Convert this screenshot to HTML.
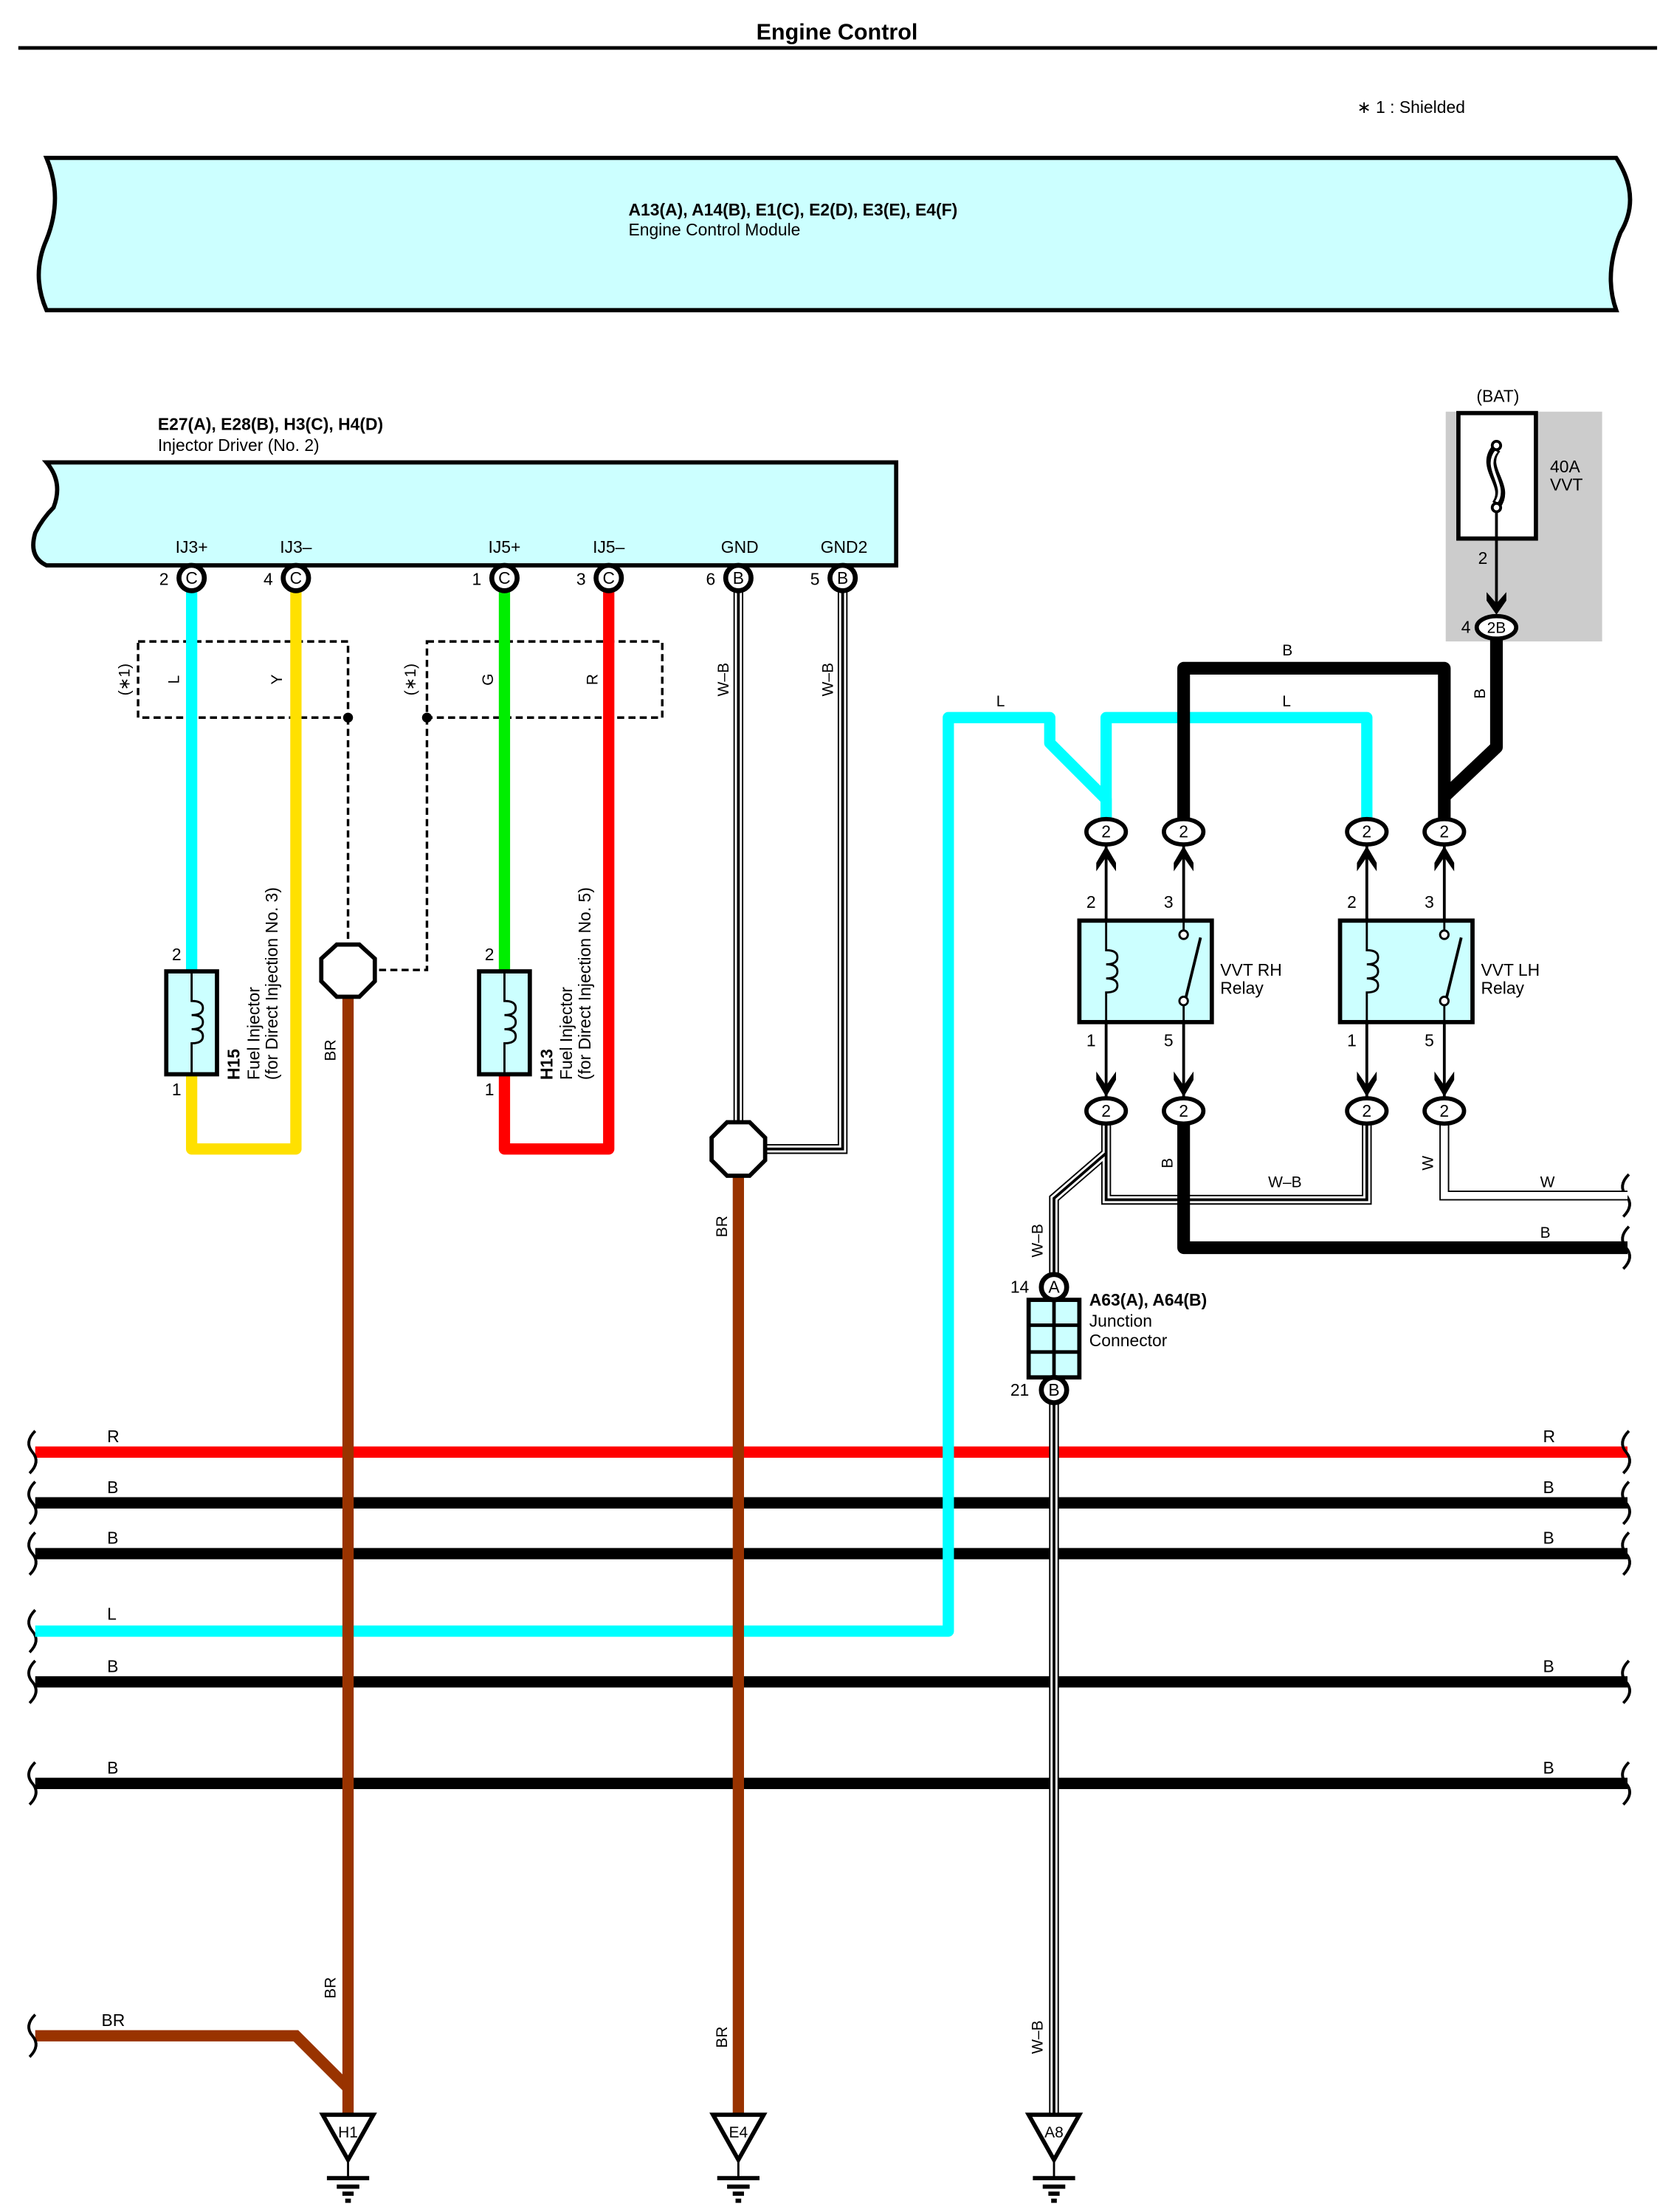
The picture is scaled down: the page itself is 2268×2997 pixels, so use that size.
<!DOCTYPE html>
<html><head><meta charset="utf-8"><style>
html,body{margin:0;padding:0;background:#fff}
svg{display:block}
text{font-family:"Liberation Sans",sans-serif;fill:#000}
</style></head><body>
<svg width="2268" height="2997" viewBox="0 0 1188 1569" preserveAspectRatio="none" xmlns="http://www.w3.org/2000/svg">
<rect width="1188" height="1569" fill="#fff"/>
<text x="594" y="28" font-size="16" font-weight="bold" text-anchor="middle">Engine Control</text>
<line x1="13" y1="34" x2="1176" y2="34" stroke="#000" stroke-width="2.5"/>
<text x="963" y="80" font-size="12">∗ 1 : Shielded</text>

<path d="M33,112 L1147,112 Q1165,140 1150,165 Q1138,195 1147,220 L33,220 Q22,195 33,170 Q45,140 33,112 Z" fill="#ccffff" stroke="#000" stroke-width="3"/>
<text x="446" y="153" font-size="12" font-weight="bold">A13(A), A14(B), E1(C), E2(D), E3(E), E4(F)</text>
<text x="446" y="167" font-size="12">Engine Control Module</text>

<text x="112" y="305" font-size="12" font-weight="bold">E27(A), E28(B), H3(C), H4(D)</text>
<text x="112" y="320" font-size="12">Injector Driver (No. 2)</text>
<path d="M33,328 L636,328 L636,401 L33,401 Q20,395 25,378 Q30,368 38,360 Q45,342 33,328 Z" fill="#ccffff" stroke="#000" stroke-width="3"/>
<g font-size="12" text-anchor="middle">
<text x="136" y="392">IJ3+</text><text x="210" y="392">IJ3–</text>
<text x="358" y="392">IJ5+</text><text x="432" y="392">IJ5–</text>
<text x="525" y="392">GND</text><text x="599" y="392">GND2</text>
</g>

<g fill="none" stroke="#000" stroke-width="1.8" stroke-dasharray="5,3">
<rect x="98" y="455" width="149" height="54"/>
<rect x="303" y="455" width="167" height="54"/>
<path d="M247,509 L247,672"/>
<path d="M303,509 L303,688 L267,688"/>
</g>
<circle cx="247" cy="509" r="3.5"/><circle cx="303" cy="509" r="3.5"/>
<g font-size="11">
<text transform="translate(92,482) rotate(-90)" text-anchor="middle">(∗1)</text>
<text transform="translate(295,482) rotate(-90)" text-anchor="middle">(∗1)</text>
<text transform="translate(127,482) rotate(-90)" text-anchor="middle">L</text>
<text transform="translate(200,482) rotate(-90)" text-anchor="middle">Y</text>
<text transform="translate(350,482) rotate(-90)" text-anchor="middle">G</text>
<text transform="translate(424,482) rotate(-90)" text-anchor="middle">R</text>
<text transform="translate(517,482) rotate(-90)" text-anchor="middle">W–B</text>
<text transform="translate(591,482) rotate(-90)" text-anchor="middle">W–B</text>
</g>

<g stroke-width="8" fill="none">
<line x1="25" y1="1030" x2="1155" y2="1030" stroke="#ff0000"/>
<line x1="25" y1="1066" x2="1155" y2="1066" stroke="#000"/>
<line x1="25" y1="1102" x2="1155" y2="1102" stroke="#000"/>
<line x1="25" y1="1193" x2="1155" y2="1193" stroke="#000"/>
<line x1="25" y1="1265" x2="1155" y2="1265" stroke="#000"/>
<path d="M25,1444 L210,1444 L247,1481" stroke="#993300"/>
</g>
<g fill="none" stroke="#000" stroke-width="2">
<path d="M25,1015 q-8,8 -2,15 q6,7 -2,15"/><path d="M25,1051 q-8,8 -2,15 q6,7 -2,15"/>
<path d="M25,1087 q-8,8 -2,15 q6,7 -2,15"/><path d="M25,1142 q-8,8 -2,15 q6,7 -2,15"/>
<path d="M25,1178 q-8,8 -2,15 q6,7 -2,15"/><path d="M25,1250 q-8,8 -2,15 q6,7 -2,15"/>
<path d="M25,1429 q-8,8 -2,15 q6,7 -2,15"/>
<path d="M1156,1015 q-8,8 -2,15 q6,7 -2,15"/><path d="M1156,1051 q-8,8 -2,15 q6,7 -2,15"/>
<path d="M1156,1087 q-8,8 -2,15 q6,7 -2,15"/><path d="M1156,1178 q-8,8 -2,15 q6,7 -2,15"/>
<path d="M1156,1250 q-8,8 -2,15 q6,7 -2,15"/>
<path d="M1156,833 q-8,8 -2,15 q6,7 -2,15"/><path d="M1156,870 q-8,8 -2,15 q6,7 -2,15"/>
</g>
<g font-size="12">
<text x="76" y="1023">R</text><text x="1095" y="1023">R</text>
<text x="76" y="1059">B</text><text x="1095" y="1059">B</text>
<text x="76" y="1095">B</text><text x="1095" y="1095">B</text>
<text x="76" y="1149">L</text>
<text x="76" y="1186">B</text><text x="1095" y="1186">B</text>
<text x="76" y="1258">B</text><text x="1095" y="1258">B</text>
<text x="72" y="1437">BR</text>
</g>

<g fill="none" stroke="#00ffff" stroke-width="8" stroke-linejoin="round">
<path d="M25,1157 L673,1157 L673,509 L745,509 L745,527 L785,567 L785,582"/>
<path d="M785,582 L785,509 L970,509 L970,582"/>
</g>
<g fill="none" stroke-width="8" stroke-linejoin="round">
<line x1="136" y1="418" x2="136" y2="688" stroke="#00ffff"/>
<path d="M136,762 L136,815 L210,815 L210,418" stroke="#ffe000"/>
<line x1="358" y1="418" x2="358" y2="688" stroke="#00ee00"/>
<path d="M358,762 L358,815 L432,815 L432,418" stroke="#ff0000"/>
<line x1="247" y1="700" x2="247" y2="1500" stroke="#993300"/>
<line x1="524" y1="830" x2="524" y2="1500" stroke="#993300"/>
</g>
<g font-size="11">
<text transform="translate(238,745) rotate(-90)" text-anchor="middle">BR</text>
<text transform="translate(238,1410) rotate(-90)" text-anchor="middle">BR</text>
<text transform="translate(516,870) rotate(-90)" text-anchor="middle">BR</text>
<text transform="translate(516,1445) rotate(-90)" text-anchor="middle">BR</text>
</g>
<g fill="none" stroke-linejoin="miter">
<path d="M524,418 L524,815 M598,418 L598,815 L524,815" stroke="#000" stroke-width="7"/>
<path d="M524,418 L524,815 M598,418 L598,815 L524,815" stroke="#fff" stroke-width="5"/>
<path d="M524,418 L524,815 M598,418 L598,815 L524,815" stroke="#000" stroke-width="2"/>
<path d="M785,796 L785,851 L970,851 L970,796 M785,818 L748,850 L748,1500 M1025,796 L1025,848 L1155,848" stroke="#000" stroke-width="7"/>
<path d="M785,796 L785,851 L970,851 L970,796 M785,818 L748,850 L748,1500 M1025,796 L1025,848 L1155,848" stroke="#fff" stroke-width="5"/>
<path d="M785,796 L785,851 L970,851 L970,796 M785,818 L748,850 L748,1500" stroke="#000" stroke-width="2"/>
</g>
<polygon points="239,670 255,670 266,680 266,696 255,707 239,707 228,696 228,680" fill="#fff" stroke="#000" stroke-width="3"/>
<polygon points="516,796 532,796 543,807 543,823 532,834 516,834 505,823 505,807" fill="#fff" stroke="#000" stroke-width="3"/>

<g stroke="#000" stroke-width="3" fill="#ccffff">
<rect x="118" y="689" width="36" height="73"/><rect x="340" y="689" width="36" height="73"/>
</g>
<g fill="none" stroke="#000" stroke-width="1.5">
<path d="M136,689 L136,710 q8,0 8,5 q0,5 -8,5 q8,0 8,5 q0,5 -8,5 q8,0 8,5 q0,5 -8,5 L136,762"/>
<path d="M358,689 L358,710 q8,0 8,5 q0,5 -8,5 q8,0 8,5 q0,5 -8,5 q8,0 8,5 q0,5 -8,5 L358,762"/>
</g>
<g font-size="12"><text x="122" y="681">2</text><text x="122" y="777">1</text><text x="344" y="681">2</text><text x="344" y="777">1</text></g>
<g font-size="12">
<text transform="translate(170,766) rotate(-90)" font-weight="bold">H15</text>
<text transform="translate(184,766) rotate(-90)">Fuel Injector</text>
<text transform="translate(197,766) rotate(-90)">(for Direct Injection No. 3)</text>
<text transform="translate(392,766) rotate(-90)" font-weight="bold">H13</text>
<text transform="translate(406,766) rotate(-90)">Fuel Injector</text>
<text transform="translate(419,766) rotate(-90)">(for Direct Injection No. 5)</text>
</g>

<g font-size="12">
<g stroke="#000" stroke-width="3.5" fill="#fff">
<circle cx="136" cy="410" r="9"/><circle cx="210" cy="410" r="9"/><circle cx="358" cy="410" r="9"/>
<circle cx="432" cy="410" r="9"/><circle cx="524" cy="410" r="9"/><circle cx="598" cy="410" r="9"/>
</g>
<g text-anchor="middle" font-size="12">
<text x="136" y="414">C</text><text x="210" y="414">C</text><text x="358" y="414">C</text>
<text x="432" y="414">C</text><text x="524" y="414">B</text><text x="598" y="414">B</text>
</g>
<text x="113" y="415">2</text><text x="187" y="415">4</text><text x="335" y="415">1</text>
<text x="409" y="415">3</text><text x="501" y="415">6</text><text x="575" y="415">5</text>
</g>

<rect x="1026" y="292" width="111" height="163" fill="#cccccc"/>
<text x="1063" y="285" font-size="12" text-anchor="middle">(BAT)</text>
<rect x="1035" y="293" width="55" height="89" fill="#fff" stroke="#000" stroke-width="3"/>
<path d="M1062,318 C1050,332 1072,344 1062,358" fill="none" stroke="#000" stroke-width="7"/>
<path d="M1062,320 C1052,332 1070,344 1062,356" fill="none" stroke="#fff" stroke-width="2"/>
<circle cx="1062" cy="316" r="3" fill="#fff" stroke="#000" stroke-width="2"/>
<circle cx="1062" cy="360" r="3" fill="#fff" stroke="#000" stroke-width="2"/>
<line x1="1062" y1="363" x2="1062" y2="432" stroke="#000" stroke-width="2"/>
<path d="M1055,426 L1062,436 L1069,426 L1069,420 L1062,428 L1055,420 Z"/>
<text x="1100" y="335" font-size="12">40A</text><text x="1100" y="348" font-size="12">VVT</text>
<text x="1049" y="400" font-size="12">2</text>
<text x="1037" y="449" font-size="12">4</text>

<g fill="none" stroke="#000" stroke-width="9" stroke-linejoin="round">
<path d="M840,582 L840,474 L1025,474 L1025,582"/>
<path d="M1062,452 L1062,530 L1025,565"/>
<path d="M840,796 L840,885 L1155,885"/>
</g>
<ellipse cx="1062" cy="445" rx="14" ry="8" fill="#fff" stroke="#000" stroke-width="3"/>
<text x="1062" y="449" font-size="11" text-anchor="middle">2B</text>
<g font-size="11">
<text x="910" y="465">B</text><text x="707" y="501">L</text><text x="910" y="501">L</text>
<text transform="translate(1054,492) rotate(-90)" text-anchor="middle">B</text>
<text transform="translate(832,825) rotate(-90)" text-anchor="middle">B</text>
<text transform="translate(1017,825) rotate(-90)" text-anchor="middle">W</text>
<text transform="translate(740,880) rotate(-90)" text-anchor="middle">W–B</text>
<text transform="translate(740,1445) rotate(-90)" text-anchor="middle">W–B</text>
<text x="900" y="842">W–B</text><text x="1093" y="842">W</text><text x="1093" y="878">B</text>
</g>

<g>
<g stroke="#000" stroke-width="2">
<line x1="785" y1="598" x2="785" y2="780"/><line x1="840" y1="598" x2="840" y2="660"/><line x1="840" y1="712" x2="840" y2="780"/>
<line x1="970" y1="598" x2="970" y2="780"/><line x1="1025" y1="598" x2="1025" y2="660"/><line x1="1025" y1="712" x2="1025" y2="780"/>
</g>
<g fill="#000">
<path d="M778,612 L785,600 L792,612 L792,618 L785,608 L778,618Z"/><path d="M833,612 L840,600 L847,612 L847,618 L840,608 L833,618Z"/>
<path d="M963,612 L970,600 L977,612 L977,618 L970,608 L963,618Z"/><path d="M1018,612 L1025,600 L1032,612 L1032,618 L1025,608 L1018,618Z"/>
<path d="M778,766 L785,778 L792,766 L792,760 L785,770 L778,760Z"/><path d="M833,766 L840,778 L847,766 L847,760 L840,770 L833,760Z"/>
<path d="M963,766 L970,778 L977,766 L977,760 L970,770 L963,760Z"/><path d="M1018,766 L1025,778 L1032,766 L1032,760 L1025,770 L1018,760Z"/>
</g>
<g stroke="#000" stroke-width="3" fill="#fff">
<ellipse cx="785" cy="590" rx="14" ry="9"/><ellipse cx="840" cy="590" rx="14" ry="9"/><ellipse cx="970" cy="590" rx="14" ry="9"/><ellipse cx="1025" cy="590" rx="14" ry="9"/>
<ellipse cx="785" cy="788" rx="14" ry="9"/><ellipse cx="840" cy="788" rx="14" ry="9"/><ellipse cx="970" cy="788" rx="14" ry="9"/><ellipse cx="1025" cy="788" rx="14" ry="9"/>
</g>
<g font-size="12" text-anchor="middle">
<text x="785" y="594">2</text><text x="840" y="594">2</text><text x="970" y="594">2</text><text x="1025" y="594">2</text>
<text x="785" y="792">2</text><text x="840" y="792">2</text><text x="970" y="792">2</text><text x="1025" y="792">2</text>
</g>
</g>
<g stroke="#000" stroke-width="3" fill="#ccffff">
<rect x="766" y="653" width="94" height="72"/><rect x="951" y="653" width="94" height="72"/>
</g>
<g fill="none" stroke="#000" stroke-width="1.5">
<path d="M785,653 L785,674 q8,0 8,5 q0,5 -8,5 q8,0 8,5 q0,5 -8,5 q8,0 8,5 q0,5 -8,5 L785,725"/>
<path d="M970,653 L970,674 q8,0 8,5 q0,5 -8,5 q8,0 8,5 q0,5 -8,5 q8,0 8,5 q0,5 -8,5 L970,725"/>
<path d="M840,653 L840,660 M840,712 L840,725 M1025,653 L1025,660 M1025,712 L1025,725"/>
<path d="M841,710 L852,665 M1026,710 L1037,665" stroke-width="2"/>
</g>
<g fill="#fff" stroke="#000" stroke-width="1.5">
<circle cx="840" cy="663" r="3"/><circle cx="840" cy="710" r="3"/><circle cx="1025" cy="663" r="3"/><circle cx="1025" cy="710" r="3"/>
</g>
<g font-size="12">
<text x="771" y="644">2</text><text x="826" y="644">3</text><text x="956" y="644">2</text><text x="1011" y="644">3</text>
<text x="771" y="742">1</text><text x="826" y="742">5</text><text x="956" y="742">1</text><text x="1011" y="742">5</text>
<text x="866" y="692">VVT RH</text><text x="866" y="705">Relay</text>
<text x="1051" y="692">VVT LH</text><text x="1051" y="705">Relay</text>
</g>

<rect x="730" y="922" width="36" height="55" fill="#ccffff" stroke="#000" stroke-width="3"/>
<g stroke="#000" stroke-width="2.5"><line x1="748" y1="922" x2="748" y2="977"/><line x1="730" y1="940" x2="766" y2="940"/><line x1="730" y1="959" x2="766" y2="959"/></g>
<g stroke="#000" stroke-width="3.5" fill="#fff"><circle cx="748" cy="913" r="9"/><circle cx="748" cy="986" r="9"/></g>
<g font-size="12" text-anchor="middle"><text x="748" y="917">A</text><text x="748" y="990">B</text></g>
<g font-size="12"><text x="717" y="917">14</text><text x="717" y="990">21</text>
<text x="773" y="926" font-weight="bold">A63(A), A64(B)</text><text x="773" y="941">Junction</text><text x="773" y="955">Connector</text></g>

<g stroke="#000" fill="#fff">
<g transform="translate(247,0)"><polygon points="-18,1500 18,1500 0,1532" stroke-width="3"/><line x1="0" y1="1532" x2="0" y2="1545" stroke-width="1.5"/><line x1="-15" y1="1545" x2="15" y2="1545" stroke-width="3"/><line x1="-8" y1="1551" x2="8" y2="1551" stroke-width="3"/><line x1="-4" y1="1556" x2="4" y2="1556" stroke-width="3"/><line x1="-2" y1="1561" x2="2" y2="1561" stroke-width="3"/></g>
<g transform="translate(524,0)"><polygon points="-18,1500 18,1500 0,1532" stroke-width="3"/><line x1="0" y1="1532" x2="0" y2="1545" stroke-width="1.5"/><line x1="-15" y1="1545" x2="15" y2="1545" stroke-width="3"/><line x1="-8" y1="1551" x2="8" y2="1551" stroke-width="3"/><line x1="-4" y1="1556" x2="4" y2="1556" stroke-width="3"/><line x1="-2" y1="1561" x2="2" y2="1561" stroke-width="3"/></g>
<g transform="translate(748,0)"><polygon points="-18,1500 18,1500 0,1532" stroke-width="3"/><line x1="0" y1="1532" x2="0" y2="1545" stroke-width="1.5"/><line x1="-15" y1="1545" x2="15" y2="1545" stroke-width="3"/><line x1="-8" y1="1551" x2="8" y2="1551" stroke-width="3"/><line x1="-4" y1="1556" x2="4" y2="1556" stroke-width="3"/><line x1="-2" y1="1561" x2="2" y2="1561" stroke-width="3"/></g>
</g>
<g font-size="11" text-anchor="middle"><text x="247" y="1516">H1</text><text x="524" y="1516">E4</text><text x="748" y="1516">A8</text></g>
</svg>
</body></html>
